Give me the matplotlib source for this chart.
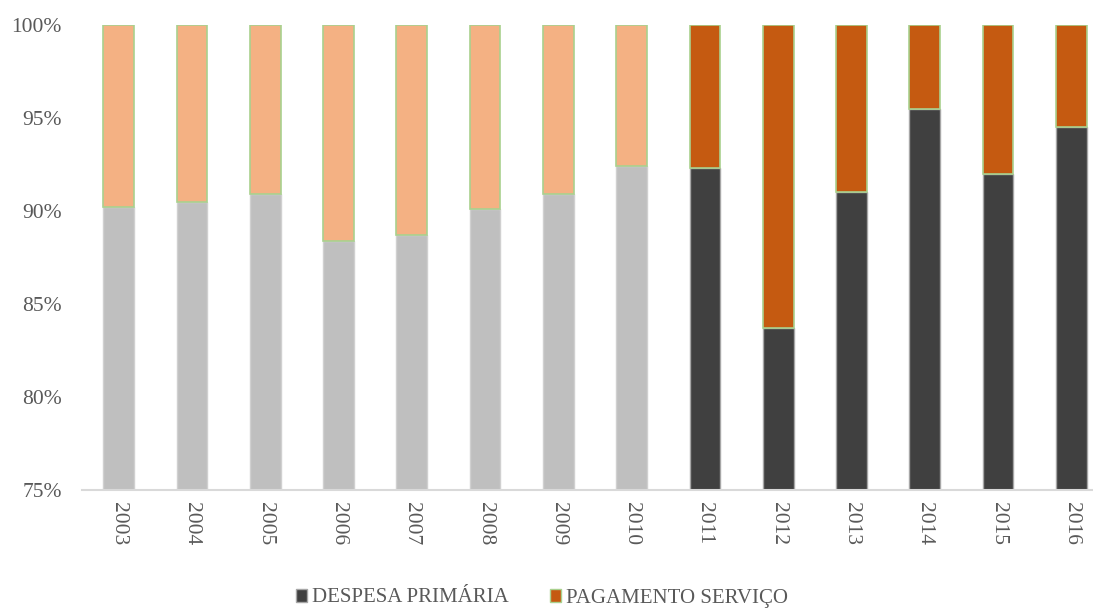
import matplotlib.pyplot as plt
from matplotlib.patches import Patch
from matplotlib.ticker import FuncFormatter

plt.rcParams['font.family'] = ['Liberation Serif', 'DejaVu Serif']

years = ['2003', '2004', '2005', '2006', '2007', '2008', '2009', '2010',
         '2011', '2012', '2013', '2014', '2015', '2016']
despesa_primaria = [90.2, 90.5, 90.9, 88.4, 88.7, 90.1, 90.9, 92.4,
                    92.3, 83.7, 91.0, 95.5, 92.0, 94.5]
pagamento_servico = [100 - v for v in despesa_primaria]

# the years before 2011 are drawn in faded colours
n_faded = 8
base_colors = ['#BFBFBF'] * n_faded + ['#404040'] * (len(years) - n_faded)
base_edges = ['#D0D0D0'] * n_faded + ['#A6A6A6'] * (len(years) - n_faded)
top_colors = ['#F4B183'] * n_faded + ['#C55A11'] * (len(years) - n_faded)

text_color = '#595959'

fig = plt.figure(figsize=(10.93, 6.10), dpi=100)
ax = fig.add_axes([82 / 1093, 1 - 490 / 610, 1026 / 1093, 465 / 610])

x = range(len(years))
ax.bar(x, despesa_primaria, width=0.42, color=base_colors,
       edgecolor=base_edges, linewidth=1.0)
ax.bar(x, pagamento_servico, width=0.42, bottom=despesa_primaria,
       color=top_colors, edgecolor='#A9D18E', linewidth=1.2)

ax.set_ylim(75, 100)
ax.set_xlim(-0.5, len(years) - 0.5)
ax.set_yticks([75, 80, 85, 90, 95, 100])
ax.yaxis.set_major_formatter(FuncFormatter(lambda v, p: '{:.0f}%'.format(v)))
ax.set_xticks(list(x))
ax.set_xticklabels(years, rotation=-90)
ax.tick_params(axis='both', length=0, labelsize=15.5, labelcolor=text_color)
ax.tick_params(axis='x', pad=9)
ax.tick_params(axis='y', pad=14.5)

for side in ['top', 'right', 'left']:
    ax.spines[side].set_visible(False)
ax.spines['bottom'].set_color('#D9D9D9')
ax.spines['bottom'].set_linewidth(1.5)

handles = [Patch(facecolor='#404040', edgecolor='#A6A6A6', label='DESPESA PRIMÁRIA'),
           Patch(facecolor='#C55A11', edgecolor='#A9D18E', label='PAGAMENTO SERVIÇO')]
fig.legend(handles=handles, loc='center', bbox_to_anchor=(542 / 1093, 1 - 598 / 610),
           ncol=2, frameon=False, fontsize=15, labelcolor=text_color,
           handlelength=0.5, handleheight=0.6, handletextpad=0.25,
           columnspacing=2.0)

plt.savefig('out.png', dpi=100)
plt.close()
